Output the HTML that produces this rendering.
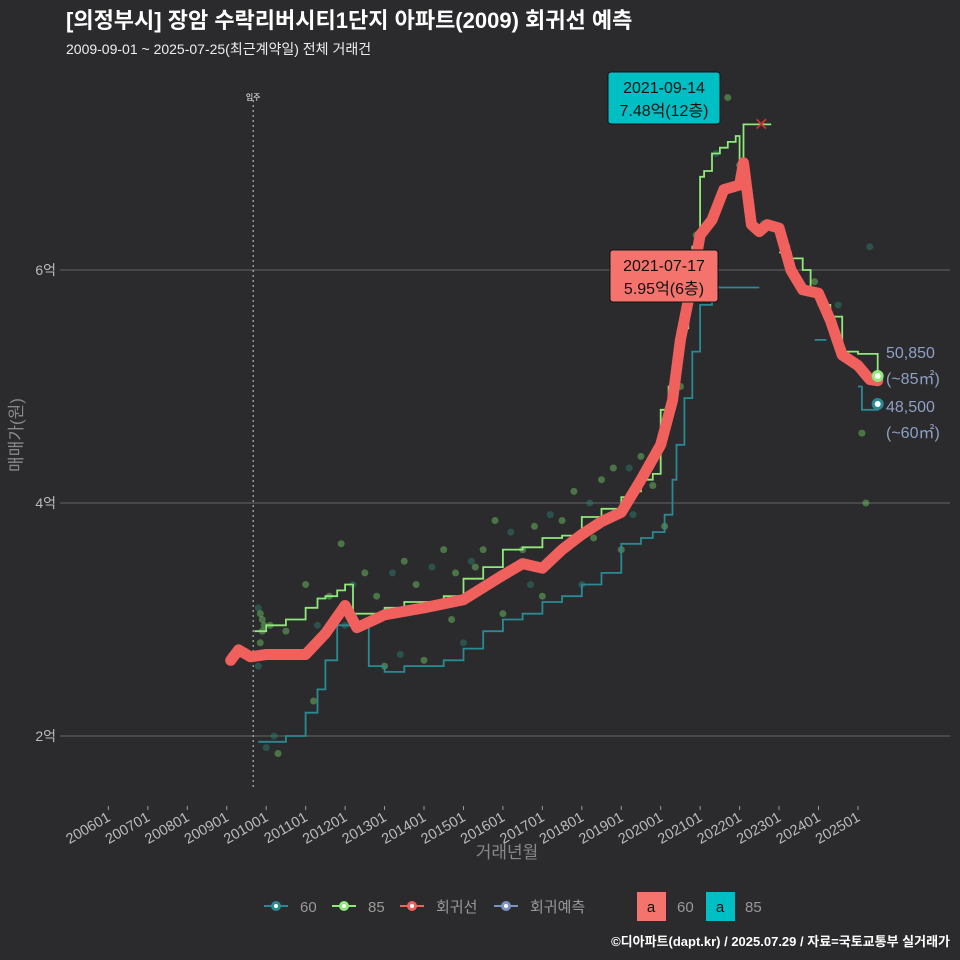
<!DOCTYPE html>
<html><head><meta charset="utf-8">
<style>
body{margin:0;background:#2b2b2d;font-family:"Liberation Sans","Noto Sans CJK KR",sans-serif;}
</style></head>
<body>
<svg id="chart" width="960" height="960" xmlns="http://www.w3.org/2000/svg" style="display:block;background:#2b2b2d">
<text x="66" y="28" fill="#fff" font-size="22" font-weight="bold" font-family="Liberation Sans,Noto Sans CJK KR,sans-serif">[의정부시] 장암 수락리버시티1단지 아파트(2009) 회귀선 예측</text>
<text x="66" y="54" fill="#eee" font-size="14" font-family="Liberation Sans,Noto Sans CJK KR,sans-serif">2009-09-01 ~ 2025-07-25(최근계약일) 전체 거래건</text>
<g id="grid"></g>
<g id="xaxis"></g>
<g id="marks"></g>
<g id="labels"></g>
<text x="22" y="435" fill="#888" font-size="17" transform="rotate(-90 22 435)" text-anchor="middle" font-family="Liberation Sans,Noto Sans CJK KR,sans-serif">매매가(원)</text>
<text x="507" y="858" fill="#888" font-size="17" text-anchor="middle" font-family="Liberation Sans,Noto Sans CJK KR,sans-serif">거래년월</text>
<g font-size="15" fill="#999" font-family="Liberation Sans,Noto Sans CJK KR,sans-serif">
 <g><line x1="264" y1="906" x2="288" y2="906" stroke="#2a8a93" stroke-width="2"/><circle cx="276" cy="906" r="5" fill="#2a8a93"/><circle cx="276" cy="906" r="2" fill="#fff"/><text x="300" y="912">60</text></g>
 <g><line x1="332" y1="906" x2="356" y2="906" stroke="#8fe87a" stroke-width="2"/><circle cx="344" cy="906" r="5" fill="#8fe87a"/><circle cx="344" cy="906" r="2" fill="#fff"/><text x="368" y="912">85</text></g>
 <g><line x1="400" y1="906" x2="424" y2="906" stroke="#f0605d" stroke-width="2"/><circle cx="412" cy="906" r="5" fill="#f0605d"/><circle cx="412" cy="906" r="2" fill="#fff"/><text x="436" y="912">회귀선</text></g>
 <g><line x1="494" y1="906" x2="518" y2="906" stroke="#7b93c0" stroke-width="2"/><circle cx="506" cy="906" r="5" fill="#7b93c0"/><circle cx="506" cy="906" r="2" fill="#fff"/><text x="530" y="912">회귀예측</text></g>
 <g><rect x="637" y="892" width="29" height="29" fill="#f5736d"/><text x="651" y="912" fill="#111" text-anchor="middle">a</text><text x="677" y="912">60</text></g>
 <g><rect x="706" y="892" width="29" height="29" fill="#00bfc4"/><text x="720" y="912" fill="#111" text-anchor="middle">a</text><text x="745" y="912">85</text></g>
</g>
<text x="950" y="946" fill="#fff" font-size="13" font-weight="bold" text-anchor="end" font-family="Liberation Sans,Noto Sans CJK KR,sans-serif">©디아파트(dapt.kr) / 2025.07.29 / 자료=국토교통부 실거래가</text>
</svg>
<script>
const yTicks=[2,4,6];
const xTickLabels=["200601","200701","200801","200901","201001","201101","201201","201301","201401","201501","201601","201701","201801","201901","202001","202101","202201","202301","202401","202501"];
const regT=[2009.1,2009.3,2009.6,2010.0,2011.0,2011.5,2012.0,2012.3,2013.0,2014.0,2015.0,2016.0,2016.5,2017.0,2017.5,2018.0,2018.5,2019.0,2019.5,2020.0,2020.3,2020.5,2020.8,2021.0,2021.3,2021.6,2022.0,2022.1,2022.3,2022.5,2022.7,2023.0,2023.3,2023.6,2024.0,2024.3,2024.6,2025.0,2025.3,2025.5];
const regV=[2.65,2.74,2.68,2.7,2.7,2.88,3.12,2.93,3.04,3.1,3.17,3.38,3.48,3.44,3.6,3.73,3.84,3.92,4.2,4.5,4.88,5.4,5.91,6.3,6.43,6.69,6.73,6.92,6.39,6.33,6.39,6.36,6.0,5.83,5.8,5.57,5.27,5.18,5.06,5.05];
const s85T=[2009.7,2010.0,2010.5,2011.0,2011.3,2011.5,2011.8,2012.0,2012.2,2012.6,2013.0,2013.5,2014.0,2014.5,2015.0,2015.5,2016.0,2016.5,2017.0,2017.5,2018.0,2018.5,2019.0,2019.3,2019.5,2019.8,2020.0,2020.2,2020.4,2020.5,2020.7,2020.8,2021.0,2021.1,2021.3,2021.5,2021.7,2021.9,2022.0,2022.1,2022.8,null,2023.0,2023.3,2023.6,2023.8,2024.0,2024.3,2024.6,2025.0,2025.3,2025.5];
const s85V=[2.9,2.95,3.0,3.1,3.18,3.2,3.25,3.3,3.05,3.05,3.1,3.15,3.15,3.2,3.35,3.45,3.6,3.62,3.7,3.72,3.88,3.95,4.05,4.1,4.2,4.25,4.8,5.0,5.3,5.5,5.9,6.2,6.8,6.85,7.0,7.05,7.1,7.15,6.9,7.25,7.25,null,6.15,6.1,6.0,5.8,5.7,5.6,5.3,5.28,5.28,5.09];
const s60T=[2009.8,2010.5,2011.0,2011.3,2011.5,2011.8,2012.3,2012.6,2013.0,2013.5,2014.0,2014.5,2015.0,2015.5,2016.0,2016.5,2017.0,2017.5,2018.0,2018.5,2019.0,2019.5,2019.8,2020.1,2020.3,2020.4,2020.6,2020.8,2021.0,2021.3,2021.6,2022.0,2022.5,null,2023.9,2024.2,null,2025.0,2025.1,2025.5];
const s60V=[1.95,2.0,2.2,2.4,2.65,2.95,2.95,2.6,2.55,2.6,2.6,2.65,2.75,2.9,3.0,3.05,3.15,3.2,3.3,3.4,3.65,3.7,3.75,3.9,4.2,4.5,4.9,5.3,5.7,5.85,5.85,5.85,5.85,null,5.4,5.4,null,5.0,4.8,4.85];
const ptT=[2009.8,2009.85,2009.9,2009.8,2009.9,2009.95,2010.0,2009.85,2010.1,2010.2,2010.5,2011.0,2011.3,2011.6,2011.9,2012.2,2012.5,2012.8,2013.2,2013.5,2013.8,2014.2,2014.5,2014.8,2015.2,2015.5,2015.8,2016.2,2016.5,2016.8,2017.2,2017.5,2017.8,2018.2,2018.5,2018.8,2019.2,2019.5,2019.8,2020.2,2020.5,2020.9,2021.4,2021.7,2022.0,2022.6,2023.2,2023.9,2024.5,2025.1,2025.2,2025.3,2010.3,2011.2,2012.0,2013.0,2014.0,2015.0,2016.0,2017.0,2018.0,2019.0,2020.1,2013.4,2014.7,2015.3,2016.7,2017.3,2018.3,2019.3];
const ptV=[2.6,2.8,3.0,3.1,2.9,2.95,1.9,3.05,2.95,2.0,2.9,3.3,2.95,3.2,3.65,3.3,3.4,3.2,3.4,3.5,3.3,3.45,3.6,3.4,3.5,3.6,3.85,3.75,3.6,3.8,3.9,3.85,4.1,4.0,4.2,4.3,4.3,4.4,4.15,4.7,5.0,6.3,7.0,7.48,6.9,6.4,6.2,5.9,5.7,4.6,4.0,6.2,1.85,2.3,2.95,2.6,2.65,2.8,3.05,3.2,3.3,3.6,3.8,2.7,3.0,3.45,3.3,3.55,3.7,3.9];
const NS="http://www.w3.org/2000/svg";
const xs=t=>108.4+(t-2006)*39.45;
const ys=v=>969-v*116.5;
function mk(tag,attrs,parent){const e=document.createElementNS(NS,tag);for(const k in attrs)e.setAttribute(k,attrs[k]);parent.appendChild(e);return e;}
const grid=document.getElementById('grid');
yTicks.forEach(v=>{
 const l=mk('line',{x1:60,x2:950,y1:ys(v),y2:ys(v),stroke:'#666','stroke-width':1},grid);
 
 
 const t=mk('text',{x:56,y:ys(v)+5,fill:'#bbb','font-size':14,'text-anchor':'end'},grid);
 
 
 t.textContent=v+'억';
});
const xa=document.getElementById('xaxis');
xTickLabels.forEach((lab,i)=>{
 const x=xs(2006+i);
 const tk=mk('line',{x1:x,x2:x,y1:806,y2:810,stroke:'#999'},xa);
 
 
 const t=mk('text',{x:x+3,y:820,fill:'#bbb','font-size':14.5,'text-anchor':'end',transform:`rotate(-30 ${x+3} 820)`},xa);
 
 
 t.textContent=lab;
});
const vl=mk('line',{x1:xs(2009.67),x2:xs(2009.67),y1:100,y2:790,stroke:'#ccc','stroke-dasharray':'2,3'},xa);


const vt=mk('text',{x:xs(2009.67),y:100,fill:'#fff','font-size':8,'text-anchor':'middle'},xa);


vt.textContent='입주';
const marks=document.getElementById('marks');
ptT.forEach((t,i)=>{
 const c=mk('circle',{cx:xs(t),cy:ys(ptV[i]),r:3.5,fill:i%3==0?'#2e7a6e':'#6cc060','fill-opacity':0.5},marks);
 
 
});
function path(T,V,step){let d='',m=true,py=0;T.forEach((t,i)=>{if(t===null){m=true;return;}const x=xs(t).toFixed(1),y=ys(V[i]).toFixed(1);if(m){d+='M'+x+','+y;}else if(step){d+='L'+x+','+py+'L'+x+','+y;}else d+='L'+x+','+y;py=y;m=false;});return d;}
const p60=mk('path',{d:path(s60T,s60V,true),fill:'none',stroke:'#2a8a93','stroke-width':1.8},marks);


const p85=mk('path',{d:path(s85T,s85V,true),fill:'none',stroke:'#8fe87a','stroke-width':1.8},marks);


const pr=mk('path',{d:path(regT,regV,false),fill:'none',stroke:'#f0605d','stroke-width':11,'stroke-linejoin':'round','stroke-linecap':'round'},marks);


const lb=document.getElementById('labels');
const xm=mk('text',{x:xs(2022.55),y:ys(7.25)+6,fill:'#d03030','font-size':18,'text-anchor':'middle'},lb);


xm.textContent='✕';
function endDot(v,col,name){const c=mk('circle',{cx:xs(2025.5),cy:ys(v),r:6,fill:col},lb);mk('circle',{cx:xs(2025.5),cy:ys(v),r:3,fill:'#fff'},lb);}
endDot(5.09,'#8fe87a','end-dot-85');
endDot(4.85,'#2a8a93','end-dot-60');
[["50,850",358],["(~85㎡)",384],["48,500",412],["(~60㎡)",438]].forEach(a=>{
 const t=mk('text',{x:886,y:a[1],fill:'#8ea0c4','font-size':16},lb);
 
 
 t.textContent=a[0];
});
function box(x,y,w,h,col,l1,l2,name){
 const g=mk('g',{},lb);
 
 
 mk('rect',{x:x,y:y,width:w,height:h,rx:3,fill:col,stroke:'#111'},g);
 const a=mk('text',{x:x+w/2,y:y+21,'font-size':16,'text-anchor':'middle',fill:'#111'},g);a.textContent=l1;
 const b=mk('text',{x:x+w/2,y:y+44,'font-size':16,'text-anchor':'middle',fill:'#111'},g);b.textContent=l2;
}
box(608,72,112,52,'#00bfc4','2021-09-14','7.48억(12층)','max-85-label');
box(610,250,108,52,'#f5736d','2021-07-17','5.95억(6층)','max-60-label');
</script>
</body></html>
